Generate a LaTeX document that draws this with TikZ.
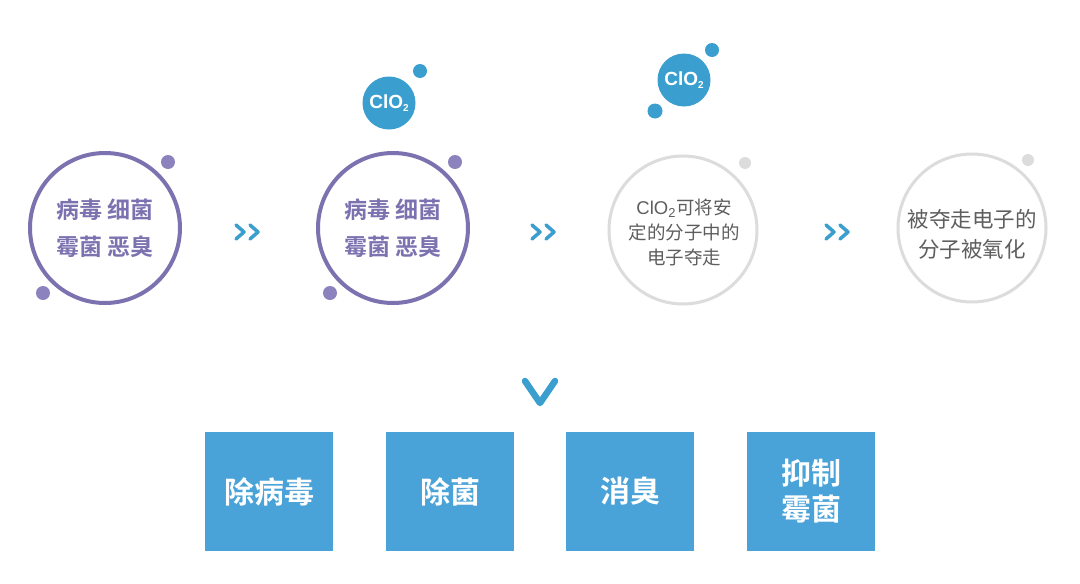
\documentclass[tikz,border=0pt]{standalone}
\usepackage{fontspec}
\newfontfamily\cjk{Noto Sans CJK SC}
\newfontfamily\cjkb{Noto Sans CJK SC Bold}
\setsansfont{Liberation Sans}
\definecolor{purp}{HTML}{7D72B0}
\definecolor{purpdot}{HTML}{8C82BE}
\definecolor{grayring}{HTML}{DCDCDC}
\definecolor{graytxt}{HTML}{5E5E5E}
\definecolor{boxblue}{HTML}{4AA3D8}
\definecolor{arrblue}{HTML}{3A9FCF}
\begin{document}
\begin{tikzpicture}[x=1pt,y=-1pt,
  ringp/.style={circle,draw=purp,line width=4pt,minimum size=150pt,inner sep=0pt,
     align=center,text=purp,font=\cjkb\fontsize{23}{37}\selectfont},
  ringg/.style={circle,draw=grayring,line width=3pt,minimum size=148pt,inner sep=0pt,
     align=center,text=graytxt},
  pdot/.style={circle,fill=purpdot,inner sep=0pt,minimum size=14pt},
  gdot/.style={circle,fill=grayring,inner sep=0pt,minimum size=12pt},
  bdot/.style={circle,fill=arrblue,inner sep=0pt,minimum size=14pt},
  blob/.style={circle,fill=arrblue,inner sep=0pt,minimum size=53pt,text=white,
     font=\sffamily\bfseries\fontsize{19}{20}\selectfont},
  resbox/.style={rectangle,fill=boxblue,minimum width=128pt,minimum height=119pt,
     inner sep=0pt,text=white,align=center,font=\cjkb\fontsize{30}{36}\selectfont},
  chev/.style={draw=arrblue,line width=3.5pt,line cap=round,line join=round}
]
\fill[white] (0,0) rectangle (1080,584);
\useasboundingbox (0,0) rectangle (1080,584);

% circle 1
\node[ringp] (c1) at (105,228) {病毒 细菌\\霉菌 恶臭};
\node[pdot] (c1a) at (168,162) {};
\node[pdot] (c1b) at (43,293) {};

% circle 2
\node[ringp] (c2) at (393,228) {病毒 细菌\\霉菌 恶臭};
\node[pdot] (c2a) at (455,162) {};
\node[pdot] (c2b) at (330,293) {};
\node[blob] (m2) at (389,103) {ClO\raisebox{-0.3ex}{\fontsize{10}{10}\selectfont 2}};
\node[bdot] (m2a) at (420,71) {};

% circle 3
\node[ringg] (c3) at (683,230) {};
\node[align=center,text=graytxt,font=\cjk\fontsize{18.5}{25}\selectfont] (t3) at (684,232)
  {{\sffamily ClO\textsubscript{2}}可将安\\定的分子中的\\电子夺走};
\node[gdot] (c3a) at (745,163) {};
\node[blob] (m3) at (684,80) {ClO\raisebox{-0.3ex}{\fontsize{10}{10}\selectfont 2}};
\node[bdot] (m3a) at (712,50) {};
\node[bdot,minimum size=15pt] (m3b) at (655,111) {};

% circle 4
\node[ringg] (c4) at (972,228) {};
\node[align=center,text=graytxt,font=\cjk\fontsize{21.5}{30}\selectfont] (t4) at (972,234)
  {被夺走电子的\\分子被氧化};
\node[gdot] (c4a) at (1028,160) {};

% chevrons >>
\foreach \x/\n in {247/a1,543/a2,837/a3}{
  \coordinate (\n) at (\x,232);
  \draw[chev] ([xshift=-11pt,yshift=-7pt]\n) -- ([xshift=-3pt]\n) -- ([xshift=-11pt,yshift=7pt]\n);
  \draw[chev] ([xshift=3pt,yshift=-7pt]\n) -- ([xshift=11pt]\n) -- ([xshift=3pt,yshift=7pt]\n);
}
% down chevron
\coordinate (dv) at (540,392);
\draw[chev,line width=6.5pt] ([xshift=-15pt,yshift=11pt]dv) -- ([yshift=-11pt]dv) -- ([xshift=15pt,yshift=11pt]dv);

% result boxes
\node[resbox] (b1) at (269,491.5) {除病毒};
\node[resbox] (b2) at (450,491.5) {除菌};
\node[resbox] (b3) at (630,491.5) {消臭};
\node[resbox] (b4) at (811,491.5) {抑制\\霉菌};
\end{tikzpicture}
\end{document}
